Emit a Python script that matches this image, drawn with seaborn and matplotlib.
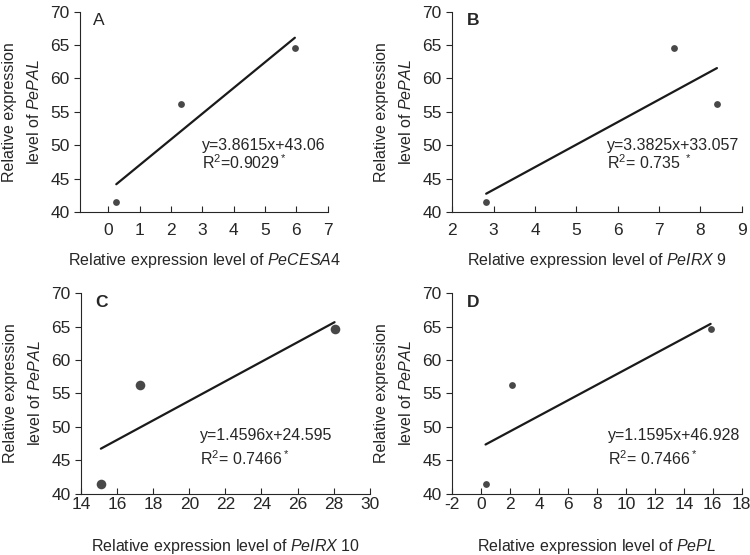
import seaborn as sns
import pandas as pd
import matplotlib.pyplot as plt

sns.set_style("ticks")
plt.rcParams['font.family'] = ['Liberation Sans', 'DejaVu Sans']
plt.rcParams['mathtext.fontset'] = 'custom'
plt.rcParams['mathtext.rm'] = 'Liberation Sans'
plt.rcParams['mathtext.it'] = 'Liberation Sans:italic'
plt.rcParams['axes.unicode_minus'] = False

# PePAL expression (same for every panel)
pal = [41.5, 56.2, 64.6]

# x values per panel
cesa4 = [0.25, 2.3, 5.95]
irx9 = [2.82, 8.4, 7.35]
irx10 = [15.1, 17.25, 28.05]
pepl = [0.3, 2.15, 15.85]

panel_letters = ['A', 'B', 'C', 'D']
gene_names = ['PeCESA4', 'PeIRX\\ 9', 'PeIRX\\ 10', 'PePL']
equations = ['y=3.8615x+43.06', 'y=3.3825x+33.057', 'y=1.4596x+24.595', 'y=1.1595x+46.928']
r2_labels = ['R$^2$=0.9029$^*$', 'R$^2$= 0.735 $^*$', 'R$^2$= 0.7466$^*$', 'R$^2$= 0.7466$^*$']
xlims = [(-0.9, 7), (2, 9), (14, 30), (-2, 18)]
xticks = [list(range(0, 8)), list(range(2, 10)), list(range(14, 31, 2)), list(range(-2, 19, 2))]
text_pos = [(3.0, 49.9, 47.4), (5.74, 49.9, 47.4), (20.6, 48.7, 45.2), (8.76, 48.8, 45.2)]
dot_size = [24, 24, 48, 24]

fig = plt.figure(figsize=(7.5, 5.55), dpi=100)
boxes = [[0.107, 0.618, 0.330, 0.361],
         [0.603, 0.618, 0.386, 0.361],
         [0.108, 0.110, 0.385, 0.362],
         [0.603, 0.110, 0.386, 0.362]]

for i, xs in enumerate([cesa4, irx9, irx10, pepl]):
    ax = fig.add_axes(boxes[i])
    df = pd.DataFrame({'x': xs, 'y': pal})
    sns.regplot(data=df, x='x', y='y', ax=ax, ci=None, color='#1a1a1a',
                scatter_kws={'s': dot_size[i], 'linewidths': 0},
                line_kws={'linewidth': 1.6})
    ax.set_xlim(xlims[i])
    ax.set_ylim(40, 70)
    ax.set_xticks(xticks[i])
    ax.set_yticks(range(40, 71, 5))
    sns.despine(ax=ax)
    top_row = i < 2
    ax.tick_params(axis='x', direction='in', length=4, labelsize=12.5,
                   pad=8 if top_row else 2)
    ax.tick_params(axis='y', direction='out', length=4, labelsize=12.5)
    ax.set_xlabel('Relative expression level of $\\mathit{' + gene_names[i] + '}$',
                  fontsize=11.5, labelpad=9 if top_row else 18)
    ax.set_ylabel('Relative expression\nlevel of $\\mathit{PePAL}$', fontsize=11.5,
                  labelpad=6, linespacing=1.7)
    ax.text(0.05, 0.955, panel_letters[i], transform=ax.transAxes, fontsize=12.5,
            fontweight='normal' if i == 0 else 'bold', va='center')
    tx, ty1, ty2 = text_pos[i]
    ax.text(tx, ty1, equations[i], fontsize=11.5, va='center')
    ax.text(tx, ty2, r2_labels[i], fontsize=11.5, va='center')

fig.savefig('out.png', dpi=100)
